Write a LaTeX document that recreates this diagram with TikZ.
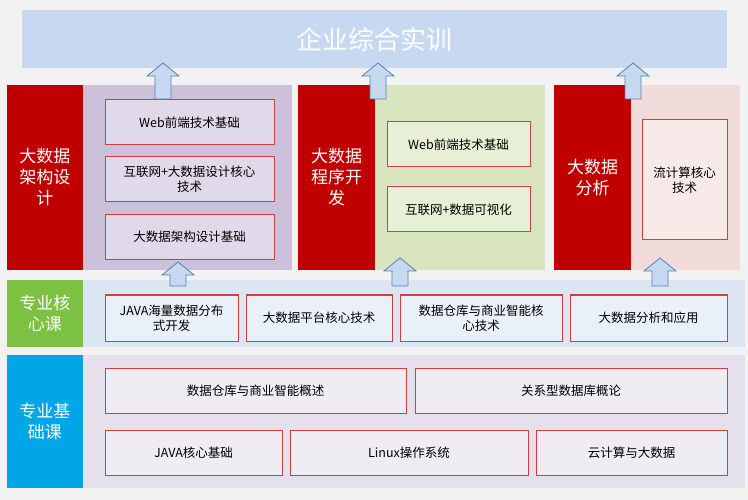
\documentclass[tikz,border=0pt]{standalone}
\usepackage{fontspec}
\setmainfont{Noto Sans CJK SC}
\definecolor{bgc}{HTML}{F2F2F2}
\definecolor{topc}{HTML}{C6D9F0}
\definecolor{redc}{HTML}{C00000}
\definecolor{purc}{HTML}{CCC0DA}
\definecolor{grnc}{HTML}{D7E4BD}
\definecolor{pnkc}{HTML}{F2DCDB}
\definecolor{leafc}{HTML}{7DC142}
\definecolor{cyanc}{HTML}{00A6E6}
\definecolor{rowc}{HTML}{DCE6F2}
\definecolor{basec}{HTML}{E5E0EC}
\definecolor{arrc}{HTML}{C6D9F0}
\definecolor{arrl}{HTML}{4F81BD}
\newcommand{\uparr}[3]{% x, tip y, base y
  \draw[arrl,fill=arrc,line width=0.8pt] (#1,#2) -- ++(16,13) -- ++(-8,0) |- ({#1-8},#3) -- ++(0,{#2+13-#3}) -- ++(-8,0) -- cycle;}
\begin{document}
\begin{tikzpicture}[x=1pt,y=-1pt,font=\fontsize{12.5}{15}\selectfont]
\tikzset{panel/.style={draw=none,inner sep=0pt},
  label/.style={panel,text=white,align=center,font=\fontsize{17}{21}\selectfont},
  course/.style={draw=redc!75,line width=1pt,align=center,inner sep=2pt}}
\fill[bgc] (0,0) rectangle (748,500);
% top
\node[panel,fill=topc,minimum width=705pt,minimum height=58pt,text=white,
  font=\fontsize{26}{30}\selectfont] (top) at (374.5,39) {企业综合实训};
% columns
\fill[purc] (83,85) rectangle (292,270);
\fill[grnc] (375,85) rectangle (545,270);
\fill[pnkc] (631,85) rectangle (740,270);
\node[label,fill=redc,minimum width=76pt,minimum height=185pt] (arch) at (45,177.5) {大数据\\架构设\\计};
\node[label,fill=redc,minimum width=77pt,minimum height=185pt] (prog) at (336.5,177.5) {大数据\\程序开\\发};
\node[label,fill=redc,minimum width=77pt,minimum height=185pt] (ana) at (592.5,177.5) {大数据\\分析};
\foreach \n/\y/\t in {a1/122.5/Web前端技术基础,a2/179.5/{互联网+大数据设计核心\\技术},a3/237/大数据架构设计基础}
  \node[course,fill=purc!60,minimum width=169pt,minimum height=45pt] (\n) at (189.5,\y) {\t};
\node[course,fill=grnc!60,minimum width=143pt,minimum height=45pt] (p1) at (458.5,144.5) {Web前端技术基础};
\node[course,fill=grnc!60,minimum width=143pt,minimum height=45pt] (p2) at (458.5,209.5) {互联网+数据可视化};
\node[course,fill=pnkc!60,minimum width=85pt,minimum height=120pt] (s1) at (684.5,180) {流计算核心\\技术};
% core row
\fill[rowc] (83,280) rectangle (745,347);
\node[label,fill=leafc,minimum width=76pt,minimum height=67pt] (core) at (45,313.5) {专业核\\心课};
\foreach \n/\a/\b/\t in {c1/105/238/{JAVA海量数据分布\\式开发},c2/246/392/大数据平台核心技术,c3/400/562/{数据仓库与商业智能核\\心技术},c4/570/727/大数据分析和应用}
  \node[course,fill=rowc!60,minimum width={\b-\a},minimum height=46pt] (\n) at ({(\a+\b)/2},318) {\t};
% base row
\fill[basec] (83,355) rectangle (745,488);
\node[label,fill=cyanc,minimum width=76pt,minimum height=133pt] (base) at (45,421.5) {专业基\\础课};
\foreach \n/\a/\b/\y/\t in {b1/105/406/390.5/数据仓库与商业智能概述,b2/415/727/390.5/关系型数据库概论,
  b3/105/282/452.5/JAVA核心基础,b4/290/528/452.5/Linux操作系统,b5/536/727/452.5/云计算与大数据}
  \node[course,fill=basec!60,minimum width={\b-\a},minimum height=45pt] (\n) at ({(\a+\b)/2},\y) {\t};
% arrows
\uparr{163}{63}{99}
\uparr{378}{63}{99}
\uparr{633}{63}{99}
\uparr{178}{262}{286}
\uparr{400}{258}{286}
\uparr{660}{258}{286}
\end{tikzpicture}
\end{document}
